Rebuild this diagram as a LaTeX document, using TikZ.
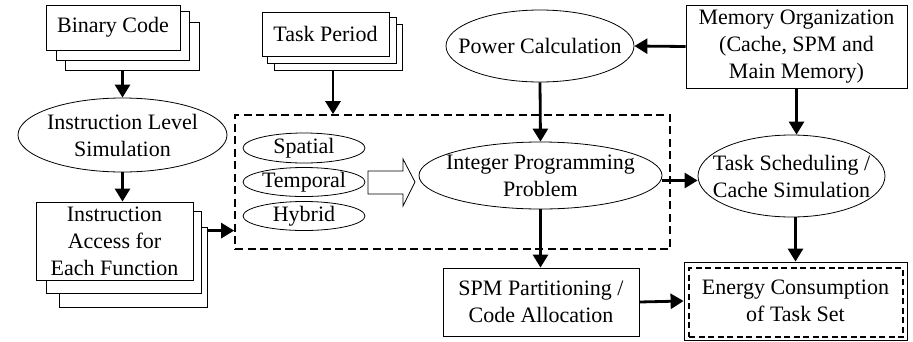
\documentclass[tikz,border=0pt]{standalone}
\usepackage{fontspec}
\setmainfont{Liberation Serif}
\usetikzlibrary{arrows.meta,shapes.geometric}
\begin{document}
\begin{tikzpicture}[x=1pt,y=-1pt,
  every node/.style={font=\fontsize{22}{27}\selectfont},
  box/.style={draw, line width=0.8pt, fill=white, inner sep=0pt, align=center},
  ell/.style={ellipse, draw, line width=0.8pt, inner sep=0pt},
  txt/.style={inner sep=0pt, align=center},
  arr/.style={line width=2.8pt, -{Triangle[length=13pt,width=15pt]}},
  grpbox/.style={draw, line width=1.7pt, dash pattern=on 8pt off 4.5pt, inner sep=0pt},
]
\useasboundingbox (0,0) rectangle (913,341);

% Binary Code stack
\node[box, minimum width=134pt, minimum height=48pt] (bc3) at (132,46) {};
\node[box, minimum width=133pt, minimum height=49pt] (bc2) at (122.5,35.5) {};
\node[box, minimum width=134pt, minimum height=45pt] (bc1) at (113,27.5) {Binary Code};

% Task Period stack
\node[box, minimum width=128pt, minimum height=46pt] (tp3) at (338,47) {};
\node[box, minimum width=129pt, minimum height=46pt] (tp2) at (331.5,40) {};
\node[box, minimum width=127pt, minimum height=44pt] (tp1) at (325.5,34) {Task Period};

% Instruction level simulation
\node[ell, minimum width=209pt, minimum height=74pt] (ils) at (122.5,135) {};
\node[txt] (ilsT) at (ils) {Instruction Level\\Simulation};

% Instruction access stack
\node[box, minimum width=148pt, minimum height=80pt] (ia3) at (133,267) {};
\node[box, minimum width=155pt, minimum height=82pt] (ia2) at (123.5,252) {};
\node[box, minimum width=157pt, minimum height=78pt] (ia1) at (114.5,241) {Instruction\\Access for\\Each Function};

% dashed group
\node[grpbox, minimum width=435pt, minimum height=134pt] (grp) at (452.5,182) {};

% small ellipses
\node[ell, minimum width=122pt, minimum height=30pt] (sp) at (304,148) {};
\node[txt] (spT) at (sp) {Spatial};
\node[ell, minimum width=122pt, minimum height=29pt] (te) at (304,182) {};
\node[txt] (teT) at (te) {Temporal};
\node[ell, minimum width=122pt, minimum height=29pt] (hy) at (304,216) {};
\node[txt] (hyT) at (hy) {Hybrid};

% fat arrow
\draw[line width=0.8pt, fill=white] (368,171) -- (403,171) -- (403,159) -- (415,182) -- (403,206) -- (403,194) -- (368,194) -- cycle;

% Integer programming
\node[ell, minimum width=243pt, minimum height=67pt] (ipp) at (540.5,175.5) {};
\node[txt] (ippT) at (ipp) {Integer Programming\\Problem};

% Power calculation
\node[ell, minimum width=188pt, minimum height=72pt] (pc) at (540,46) {};
\node[txt] (pcT) at (pc) {Power Calculation};

% Memory organization
\node[box, minimum width=221pt, minimum height=83pt] (mem) at (796.5,46.5) {Memory Organization\\(Cache, SPM and\\Main Memory)};

% Task scheduling
\node[ell, minimum width=187pt, minimum height=82pt] (ts) at (791.5,176) {};
\node[txt] (tsT) at (ts) {Task Scheduling /\\Cache Simulation};

% SPM partitioning
\node[box, minimum width=196pt, minimum height=68pt] (spm) at (541,302) {SPM Partitioning /\\Code Allocation};

% Energy
\node[box, minimum width=223pt, minimum height=78pt] (en) at (795.5,301) {};
\node[grpbox, line width=1.8pt, dash pattern=on 6pt off 3.5pt, minimum width=214pt, minimum height=69pt] (enIn) at (796,302.5) {};
\node[txt] (enT) at (en) {Energy Consumption\\of Task Set};

% connectors
\draw[arr] (ils.north |- bc3.south) -- (ils.north);
\draw[arr] (ils.south) -- (ils.south |- ia1.north);
\draw[arr] ([yshift=-4pt]ia3.north east) -- ([yshift=-4pt]ia3.north east -| grp.west);
\draw[arr] ([xshift=-5pt]tp3.south) -- ([xshift=-5pt]tp3.south |- grp.north);
\draw[arr] (mem.west) -- (pc.east);
\draw[arr] (pc.south) -- (ipp.north);
\draw[arr] (mem.south) -- (mem.south |- ts.north);
\draw[arr] ([yshift=-5pt]ipp.east) -- ([yshift=-5pt]ipp.east -| ts.west);
\draw[arr] (ipp.south) -- (ipp.south |- spm.north);
\draw[arr] (spm.east) -- (en.west);
\draw[arr] (en.north |- ts.south) -- (en.north);
\end{tikzpicture}
\end{document}
